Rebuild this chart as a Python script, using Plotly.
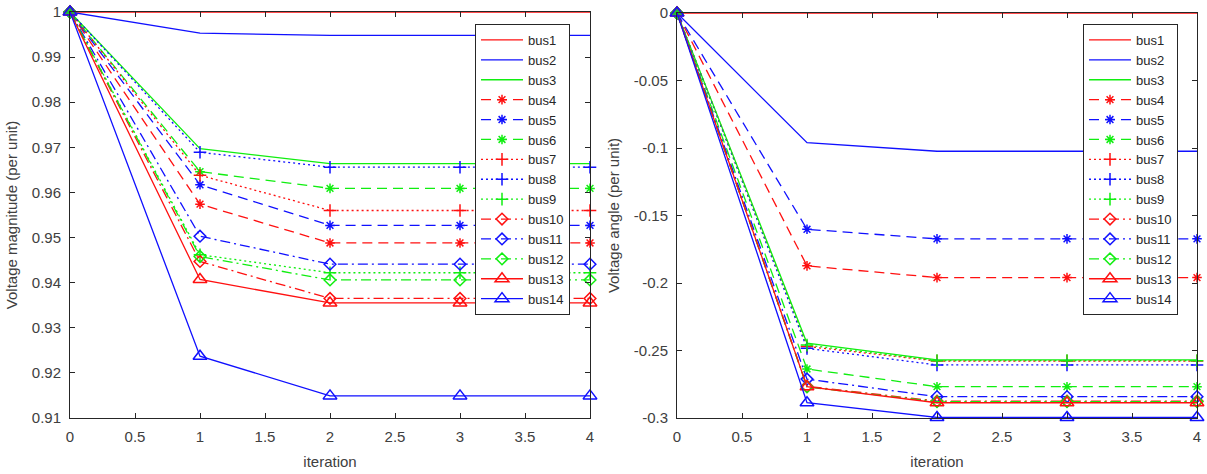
import plotly.graph_objects as go

iterations = [0, 1, 2, 3, 4]
bus_names = ["bus1", "bus2", "bus3", "bus4", "bus5", "bus6", "bus7",
             "bus8", "bus9", "bus10", "bus11", "bus12", "bus13", "bus14"]

# Voltage magnitude (per unit)
vm_bus1 = [1.0, 1.0, 1.0, 1.0, 1.0]
vm_bus2 = [1.0, 0.9953, 0.9948, 0.9948, 0.9948]
vm_bus3 = [1.0, 0.9697, 0.9664, 0.9664, 0.9664]
vm_bus4 = [1.0, 0.9574, 0.9488, 0.9488, 0.9488]
vm_bus5 = [1.0, 0.9617, 0.9527, 0.9527, 0.9527]
vm_bus6 = [1.0, 0.9646, 0.9609, 0.9609, 0.9609]
vm_bus7 = [1.0, 0.9638, 0.9560, 0.9560, 0.9560]
vm_bus8 = [1.0, 0.9689, 0.9656, 0.9656, 0.9656]
vm_bus9 = [1.0, 0.9462, 0.9422, 0.9422, 0.9422]
vm_bus10 = [1.0, 0.9447, 0.9365, 0.9365, 0.9365]
vm_bus11 = [1.0, 0.9503, 0.9441, 0.9441, 0.9441]
vm_bus12 = [1.0, 0.9458, 0.9406, 0.9406, 0.9406]
vm_bus13 = [1.0, 0.9407, 0.9355, 0.9355, 0.9355]
vm_bus14 = [1.0, 0.9237, 0.9149, 0.9149, 0.9149]

# Voltage angle (per unit)
va_bus1 = [0.0, 0.0, 0.0, 0.0, 0.0]
va_bus2 = [0.0, -0.0961, -0.1024, -0.1024, -0.1024]
va_bus3 = [0.0, -0.2446, -0.2570, -0.2570, -0.2570]
va_bus4 = [0.0, -0.1873, -0.1960, -0.1960, -0.1960]
va_bus5 = [0.0, -0.1602, -0.1673, -0.1673, -0.1673]
va_bus6 = [0.0, -0.2637, -0.2768, -0.2768, -0.2768]
va_bus7 = [0.0, -0.2470, -0.2578, -0.2578, -0.2578]
va_bus8 = [0.0, -0.2484, -0.2607, -0.2607, -0.2607]
va_bus9 = [0.0, -0.2460, -0.2575, -0.2575, -0.2575]
va_bus10 = [0.0, -0.2765, -0.2875, -0.2875, -0.2875]
va_bus11 = [0.0, -0.2712, -0.2842, -0.2842, -0.2842]
va_bus12 = [0.0, -0.2770, -0.2879, -0.2879, -0.2879]
va_bus13 = [0.0, -0.2768, -0.2887, -0.2887, -0.2887]
va_bus14 = [0.0, -0.2887, -0.2996, -0.2996, -0.2996]

vm_series = [vm_bus1, vm_bus2, vm_bus3, vm_bus4, vm_bus5, vm_bus6, vm_bus7,
             vm_bus8, vm_bus9, vm_bus10, vm_bus11, vm_bus12, vm_bus13, vm_bus14]
va_series = [va_bus1, va_bus2, va_bus3, va_bus4, va_bus5, va_bus6, va_bus7,
             va_bus8, va_bus9, va_bus10, va_bus11, va_bus12, va_bus13, va_bus14]

x_tickvals = [0, 0.5, 1, 1.5, 2, 2.5, 3, 3.5, 4]
x_ticktext = ["0", "0.5", "1", "1.5", "2", "2.5", "3", "3.5", "4"]
vm_tickvals = [0.91, 0.92, 0.93, 0.94, 0.95, 0.96, 0.97, 0.98, 0.99, 1.0]
vm_ticktext = ["0.91", "0.92", "0.93", "0.94", "0.95", "0.96", "0.97", "0.98", "0.99", "1"]
va_tickvals = [-0.3, -0.25, -0.2, -0.15, -0.1, -0.05, 0]
va_ticktext = ["-0.3", "-0.25", "-0.2", "-0.15", "-0.1", "-0.05", "0"]

# styles
RED, BLUE, GREEN = "#ff1010", "#1010ff", "#10ee10"
colors = [RED, BLUE, GREEN] * 4 + [RED, BLUE]
dashes = (["solid"] * 3 + ["10px,6px"] * 3 + ["2px,3px"] * 3
          + ["10px,4px,2px,4px"] * 3 + ["solid"] * 2)
symbols = ([None] * 3 + ["asterisk-open"] * 3 + ["cross-thin-open"] * 3
           + ["diamond-open"] * 3 + ["triangle-up-open"] * 2)
sizes = [0] * 3 + [8] * 3 + [9] * 3 + [9] * 3 + [12] * 2

W, H = 1207, 474
fig = go.Figure()

for panel, series in enumerate([vm_series, va_series]):
    xa = "x" if panel == 0 else "x2"
    ya = "y" if panel == 0 else "y2"
    lg = "legend" if panel == 0 else "legend2"
    for i, name in enumerate(bus_names):
        sym = symbols[i]
        mode = "lines" if sym is None else "lines+markers"
        marker = None
        if sym is not None:
            marker = dict(symbol=sym, size=sizes[i], color=colors[i],
                          line=dict(color=colors[i], width=1.5))
        fig.add_trace(go.Scatter(
            x=iterations, y=series[i], name=name, mode=mode,
            line=dict(color=colors[i], width=1.3, dash=dashes[i]),
            marker=marker, xaxis=xa, yaxis=ya, legend=lg, cliponaxis=False,
        ))

FONT = "Liberation Sans, Arial"
axis_common = dict(
    showline=True, linecolor="#262626", linewidth=1, mirror="ticks",
    ticks="inside", ticklen=5, tickcolor="#262626", showgrid=False,
    zeroline=False, ticklabelstandoff=5,
    tickfont=dict(family=FONT, size=15, color="#404040"),
)

def px_x(p):
    return p / W

def px_y(p):
    return 1 - p / H

legend_common = dict(xanchor="left", yanchor="top", bgcolor="white",
                     bordercolor="#262626", borderwidth=1, itemwidth=42,
                     font=dict(family=FONT, size=13, color="#262626"),
                     tracegroupgap=0)

fig.update_layout(
    width=W, height=H,
    margin=dict(l=0, r=0, t=0, b=0, autoexpand=False),
    paper_bgcolor="white", plot_bgcolor="white",
    font=dict(family=FONT, color="#404040"),
    xaxis=dict(domain=[px_x(70), px_x(590)], range=[0, 4], anchor="y",
               tickvals=x_tickvals, ticktext=x_ticktext,
               title=dict(text="iteration", font=dict(size=15), standoff=12), **axis_common),
    yaxis=dict(domain=[px_y(418), px_y(12)], range=[0.91, 1.0], anchor="x",
               tickvals=vm_tickvals, ticktext=vm_ticktext,
               title=dict(text="Voltage magnitude (per unit)", font=dict(size=15), standoff=10),
               **axis_common),
    xaxis2=dict(domain=[px_x(677), px_x(1197)], range=[0, 4], anchor="y2",
                tickvals=x_tickvals, ticktext=x_ticktext,
                title=dict(text="iteration", font=dict(size=15), standoff=12), **axis_common),
    yaxis2=dict(domain=[px_y(418), px_y(13)], range=[-0.3, 0.0], anchor="x2",
                tickvals=va_tickvals, ticktext=va_ticktext,
                title=dict(text="Voltage angle (per unit)", font=dict(size=15), standoff=10),
                **axis_common),
    legend=dict(x=px_x(475), y=px_y(24), **legend_common),
    legend2=dict(x=px_x(1083), y=px_y(24), **legend_common),
)

fig.write_html("out.html", config={"displayModeBar": False})

# remove the default page margin so the figure fills the window exactly
with open("out.html", "r", encoding="utf-8") as f:
    html = f.read()
html = html.replace("<head>", "<head><style>html,body{margin:0;padding:0;overflow:hidden;}</style>", 1)
with open("out.html", "w", encoding="utf-8") as f:
    f.write(html)
